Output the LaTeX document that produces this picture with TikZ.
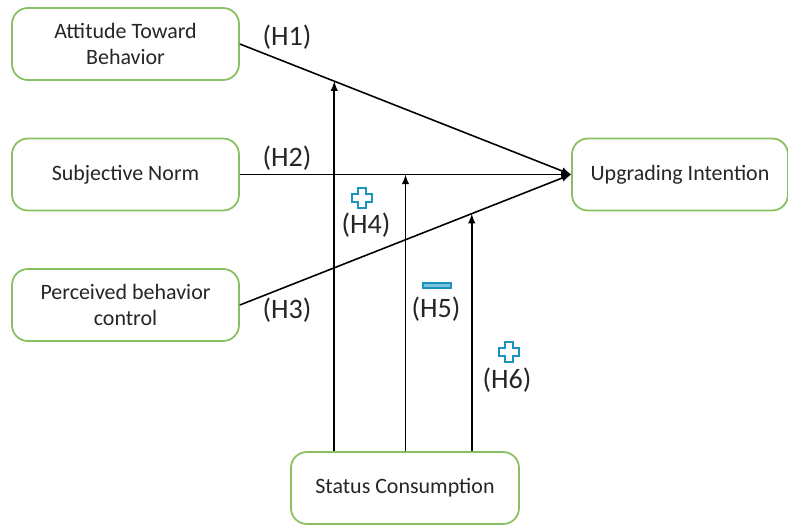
\documentclass[tikz,border=0pt]{standalone}
\usepackage{fontspec}
\setmainfont{Carlito}
\usetikzlibrary{arrows}

\definecolor{boxgreen}{RGB}{136,192,96}
\definecolor{signblue}{RGB}{28,146,190}
\definecolor{signfill}{RGB}{120,196,222}

\tikzset{
  construct/.style={draw=boxgreen, line width=1pt, rounded corners=9pt, fill=white,
    minimum height=1.44cm, align=center, font=\fontsize{12.5}{15}\selectfont, text=black!85},
  hyp/.style={font=\fontsize{16}{18}\selectfont, text=black!85, inner sep=1pt},
  path/.style={->,>=latex, line width=0.9pt, black}
}

% plus sign, drawn as an outlined cross
\newcommand{\plusmark}[1]{%
  \draw[signblue, line width=1.7pt, fill=white, line join=miter] (#1) ++(-4,-10) -- ++(8,0) -- ++(0,6)
    -- ++(6,0) -- ++(0,8) -- ++(-6,0) -- ++(0,6) -- ++(-8,0) -- ++(0,-6) -- ++(-6,0) -- ++(0,-8) -- ++(6,0) -- cycle;}

\begin{document}
\begin{tikzpicture}[x=0.02cm,y=-0.02cm]

  \useasboundingbox (0,0) rectangle (788,527);

% Constructs
  \node[construct, minimum width=4.54cm] (att) at (125.5,44) {Attitude Toward\\Behavior};
  \node[construct, minimum width=4.54cm] (sub) at (125.5,174.5) {Subjective Norm};
  \node[construct, minimum width=4.54cm] (per) at (125.5,305) {Perceived behavior\\control};
  \node[construct, minimum width=4.32cm] (upg) at (680,174.5) {Upgrading Intention};
  \node[construct, minimum width=4.56cm] (sta) at (405,488) {Status Consumption};

% Main paths
  \draw[path] (att.east) -- (upg.west) coordinate[pos=0.285] (m1);
  \draw[path] (sub.east) -- (upg.west) coordinate[pos=0.5] (m2);
  \draw[path] (per.east) -- (upg.west) coordinate[pos=0.7] (m3);

% Moderation
  \draw[path] (sta.north -| m1) -- (m1);
  \draw[path] (sta.north -| m2) -- (m2);
  \draw[path] (sta.north -| m3) -- (m3);

% Labels
  \node[hyp] (h1) at (287,37) {(H1)};
  \node[hyp] (h2) at (287,158) {(H2)};
  \node[hyp] (h3) at (287,310) {(H3)};
  \node[hyp] (h4) at (366,225) {(H4)};
  \node[hyp] (h5) at (436,309) {(H5)};
  \node[hyp] (h6) at (507,380) {(H6)};

  \plusmark{362,198}
  \plusmark{509,352}
  \draw[signblue, line width=1pt, fill=signfill] (423,283) rectangle (451,288);

\end{tikzpicture}
\end{document}
